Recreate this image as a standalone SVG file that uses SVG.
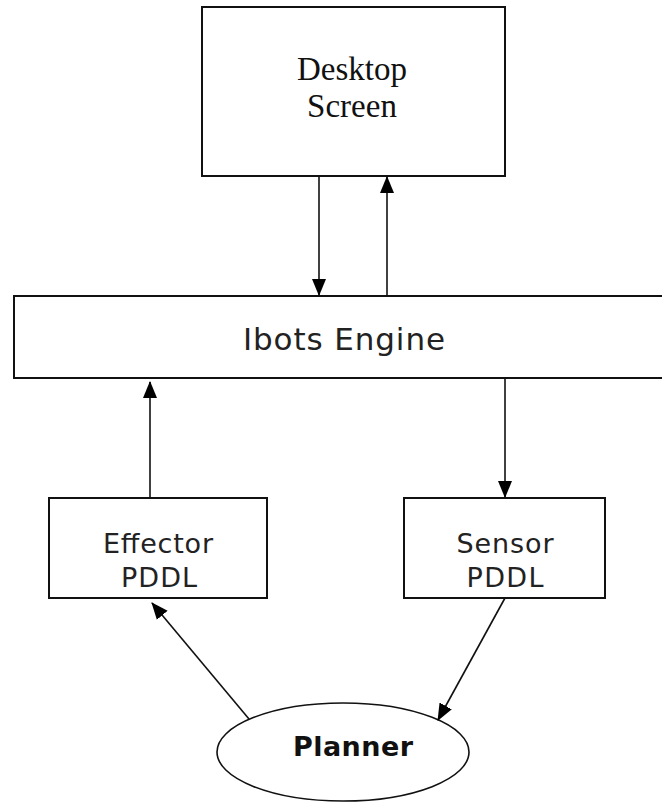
<svg xmlns="http://www.w3.org/2000/svg" width="662" height="802" viewBox="0 0 662 802">
  <style>
    .box { fill: #ffffff; stroke: #111111; stroke-width: 2; }
    .oval { fill: #ffffff; stroke: #111111; stroke-width: 1.6; }
    .link { fill: none; stroke: #111111; stroke-width: 1.6; marker-end: url(#head); }
    .serif { font-family: "Liberation Serif", "Times New Roman", serif; font-size: 33px; fill: #111111; text-anchor: middle; }
    .sans { font-family: "DejaVu Sans", Verdana, sans-serif; font-size: 27px; fill: #222222; text-anchor: middle; }
    text.title { font-size: 31px; }
    .bold { font-family: "DejaVu Sans", Verdana, sans-serif; font-size: 27px; font-weight: bold; fill: #111111; text-anchor: middle; }
  </style>
  <defs>
    <marker id="head" markerUnits="userSpaceOnUse" markerWidth="17" markerHeight="17" viewBox="0 0 17 17" refX="16" refY="8.5" orient="auto">
      <path d="M0,1.5 L17,8.5 L0,15.5 Z" fill="#000000"/>
    </marker>
  </defs>
  <rect width="662" height="802" fill="#ffffff"/>

  <g id="desktop-screen">
    <rect class="box" x="202" y="7" width="303" height="169"/>
    <text class="serif" x="352" y="80">Desktop</text>
    <text class="serif" x="352" y="117">Screen</text>
  </g>

  <g id="ibots-engine">
    <rect class="box" x="14" y="296" width="660" height="82"/>
    <text class="sans title" x="344" y="350" textLength="202" lengthAdjust="spacing">Ibots Engine</text>
  </g>

  <g id="effector-pddl">
    <rect class="box" x="49" y="498" width="218" height="100"/>
    <text class="sans" x="158" y="553" textLength="110" lengthAdjust="spacing">Effector</text>
    <text class="sans" x="159" y="587" textLength="76" lengthAdjust="spacing">PDDL</text>
  </g>

  <g id="sensor-pddl">
    <rect class="box" x="404" y="498" width="201" height="100"/>
    <text class="sans" x="505" y="553" textLength="97" lengthAdjust="spacing">Sensor</text>
    <text class="sans" x="505" y="587" textLength="77" lengthAdjust="spacing">PDDL</text>
  </g>

  <g id="planner">
    <ellipse class="oval" cx="343" cy="752" rx="126" ry="49"/>
    <text class="bold" x="353" y="756" textLength="120" lengthAdjust="spacing">Planner</text>
  </g>

  <g id="connectors">
    <line class="link" x1="319" y1="176" x2="319" y2="295"/>
    <line class="link" x1="387" y1="296" x2="387" y2="177"/>
    <line class="link" x1="150" y1="498" x2="150" y2="382"/>
    <line class="link" x1="505" y1="378" x2="505" y2="497"/>
    <line class="link" x1="249" y1="719" x2="152" y2="603"/>
    <line class="link" x1="505" y1="598" x2="438" y2="720"/>
  </g>
</svg>
